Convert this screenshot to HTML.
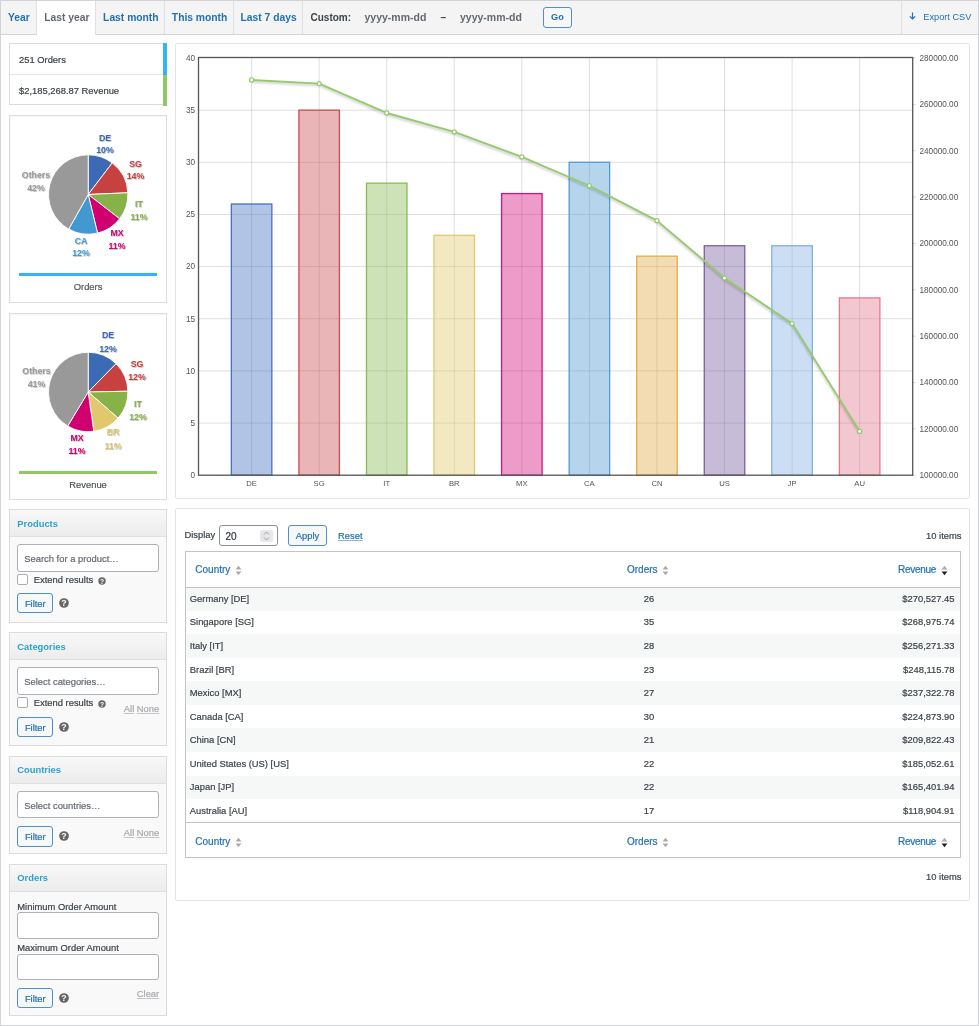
<!DOCTYPE html><html><head><meta charset="utf-8"><title>Sales by country</title><style>
*{box-sizing:border-box}
html,body{margin:0;padding:0}
body{width:979px;height:1026px;position:relative;overflow:hidden;background:#fff;-webkit-text-stroke:0.2px currentColor;
 font-family:"Liberation Sans",sans-serif;color:#3c434a;font-size:9.4px}
.root{position:absolute;left:0;top:0;width:979px;height:1026px;will-change:transform}
.frame{position:absolute;left:0;top:0;width:979px;height:1026px;border:1px solid #d2d3d6;pointer-events:none;z-index:10}
.tabs{position:absolute;left:0;top:0;width:979px;height:35px;background:#f4f4f4;border-bottom:1px solid #d4d4d6}
.tab{position:absolute;top:1px;height:33px;line-height:33px;font-size:10.3px;padding-left:2.2px;font-weight:bold;color:#2271b1;text-align:center;border-right:1px solid #e0e0e0;white-space:nowrap}
.tab.active{background:#fff;color:#646970;height:34px;font-weight:600}
.cust{position:absolute;top:1px;height:33px;line-height:33px;font-size:10px;font-weight:bold;white-space:nowrap}
.go{position:absolute;left:543px;top:7px;width:29px;height:21px;border:1px solid #4f8fd0;border-radius:3px;background:#f6f7f7;color:#2271b1;font-weight:bold;font-size:9.2px;text-align:center;line-height:19px}
.exp{position:absolute;left:900.5px;top:1px;width:78px;height:33px;border-left:1px solid #e0e0e0}
.exp span{position:absolute;left:21.8px;top:11px;font-size:9.2px;color:#2271b1;white-space:nowrap}
.legend{position:absolute;left:9px;top:43.2px;width:157.5px;height:62px;border:1px solid #dcdcde;background:#fff}
.legend div{position:absolute;left:9px;font-size:9.4px;color:#3c434a;white-space:nowrap}
.lbar{position:absolute;right:-1px;width:4px}
.pbox{position:absolute;left:9.3px;width:157.5px;border:1px solid #dcdcde;background:#fff;box-shadow:inset 1px 1px 1px rgba(0,0,0,0.04)}
.pbox .ul{position:absolute;left:9px;right:9px;height:2.6px}
.pbox .cap{position:absolute;left:0;right:0;text-align:center;font-size:9.4px;color:#50575e}
.pies{position:absolute;left:0;top:0}
.cpanel{position:absolute;left:175px;top:43px;width:795px;height:456px;border:1px solid #e4e4e6;border-radius:2px;background:#fff}
.chart{position:absolute;left:0;top:0}
.fpanel{position:absolute;left:9.3px;width:157.5px;border:1px solid #dcdcde;background:#f9f9f9}
.fh{background:linear-gradient(#f8f8f8,#ececec);border-bottom:1px solid #dfdfdf;position:relative}
.fh span{position:absolute;left:7px;top:7.5px;font-weight:bold;color:#2ea2cc;font-size:9.4px;white-space:nowrap}
.fb{position:relative}
.inp{position:absolute;left:7px;width:142px;background:#fff;border:1px solid #aeb1b6;border-radius:3px;color:#646970;font-size:9.4px;white-space:nowrap}
.inp span{position:absolute;left:6px}
.cb{position:absolute;left:7px;width:11px;height:11px;border:1px solid #a9acb1;border-radius:2px;background:#fff}
.lbl{position:absolute;font-size:9.4px;color:#3c434a;white-space:nowrap}
.btn{position:absolute;left:7px;width:36px;height:20.5px;border:1px solid #4f8fd0;border-radius:3px;background:#f6f7f7;color:#2271b1;font-size:9.4px;text-align:center;line-height:19.6px}
.help{position:absolute;overflow:visible}
.an{position:absolute;font-size:9.4px;color:#a7aaad;white-space:nowrap}
.an u{text-decoration:underline;text-decoration-color:#c3c4c7}
.tpanel{position:absolute;left:175px;top:508px;width:795px;height:393px;border:1px solid #e4e4e6;border-radius:2px;background:#fff}
.tpanel .t{position:absolute;white-space:nowrap}
.num{position:absolute;left:42.5px;top:16px;width:59.5px;height:21px;border:1px solid #8c8f94;border-radius:3px;background:#fff}
.tbl{position:absolute;left:8.5px;top:42.2px;width:776.5px;border-collapse:collapse;border:1px solid #c3c4c7;font-size:9.4px;color:#3c434a}
.tbl th{height:35.5px;font-weight:normal;font-size:10px;color:#2271b1;padding:0}
.tbl thead th{border-bottom:1px solid #c3c4c7}
.tbl tfoot th{border-top:1px solid #c3c4c7;height:35px;padding-top:3.8px}
.tbl td{height:23.55px;padding:0 0 1.1px 0}
.tbl tr.odd td{background:#f6f7f7}
.tbl .c1{text-align:left;padding-left:4.3px;width:359px}
.tbl th.c1{padding-left:9.8px}
.tbl th.c2{padding-right:2px}
.tbl .c2{text-align:center;width:210px}
.tbl .c3{text-align:right;padding-right:5.5px}
.tbl th.c3{padding-right:12.5px}
.tab,.cust,.go,.fh span,.exp span,svg{-webkit-text-stroke:0}
.si{display:inline-block;vertical-align:middle;margin-left:4.5px;position:relative;top:0.5px}
</style></head><body>
<div class="root">
<div class="tabs">
<div class="tab" style="left:0px;width:36.5px">Year</div>
<div class="tab active" style="left:36.5px;width:59.5px">Last year</div>
<div class="tab" style="left:96px;width:68.5px">Last month</div>
<div class="tab" style="left:164.5px;width:69.0px">This month</div>
<div class="tab" style="left:233.5px;width:69.0px">Last 7 days</div>
<div class="cust" style="left:310.5px;color:#3c434a">Custom:</div>
<div class="cust" style="left:364.5px;color:#646970;font-size:10.5px">yyyy-mm-dd</div>
<div class="cust" style="left:440.5px;color:#3c434a">&ndash;</div>
<div class="cust" style="left:460px;color:#646970;font-size:10.5px">yyyy-mm-dd</div>
<div class="go">Go</div>
<div class="exp"><svg style="position:absolute;left:7.6px;top:10.6px" width="7" height="8" viewBox="0 0 7 8"><path d="M3.5 0.5 V7 M0.8 4.3 L3.5 7 L6.2 4.3" fill="none" stroke="#2271b1" stroke-width="1.2"/></svg><span>Export CSV</span></div>
</div>
<div class="legend"><div style="top:10px">251 Orders</div><div style="top:41px">$2,185,268.87 Revenue</div><div style="position:absolute;left:-1px;top:29.5px;width:154px;height:1px;background:#e4e4e4"></div><span class="lbar" style="top:-1px;height:31.5px;background:#33b5f5"></span><span class="lbar" style="top:30.5px;height:31.5px;background:#8fc866"></span></div>
<div class="pbox" style="top:115.3px;height:187.5px"><div class="ul" style="top:157px;background:#33b5f5"></div><div class="cap" style="top:165px">Orders</div></div>
<div class="pbox" style="top:313px;height:186.5px"><div class="ul" style="top:157px;background:#8fc866"></div><div class="cap" style="top:165px">Revenue</div></div>
<svg class="pies" width="180" height="520" viewBox="0 0 180 520"><defs><filter id="tsh" x="-20%" y="-30%" width="140%" height="160%"><feDropShadow dx="0.6" dy="0.6" stdDeviation="0.6" flood-color="#000" flood-opacity="0.35"/></filter></defs><path d="M88.2,194.5 L88.20,154.80 A39.7,39.7 0 0 1 112.25,162.92 Z" fill="#3d6ab4" stroke="#fff" stroke-width="0.9" stroke-linejoin="round"/><path d="M88.2,194.5 L112.25,162.92 A39.7,39.7 0 0 1 127.86,192.76 Z" fill="#c84141" stroke="#fff" stroke-width="0.9" stroke-linejoin="round"/><path d="M88.2,194.5 L127.86,192.76 A39.7,39.7 0 0 1 119.63,218.75 Z" fill="#87b248" stroke="#fff" stroke-width="0.9" stroke-linejoin="round"/><path d="M88.2,194.5 L119.63,218.75 A39.7,39.7 0 0 1 97.55,233.08 Z" fill="#d00070" stroke="#fff" stroke-width="0.9" stroke-linejoin="round"/><path d="M88.2,194.5 L97.55,233.08 A39.7,39.7 0 0 1 68.71,229.09 Z" fill="#4299d2" stroke="#fff" stroke-width="0.9" stroke-linejoin="round"/><path d="M88.2,194.5 L68.71,229.09 A39.7,39.7 0 0 1 88.20,154.80 Z" fill="#999999" stroke="#fff" stroke-width="0.9" stroke-linejoin="round"/><path d="M88.2,392.0 L88.20,352.30 A39.7,39.7 0 0 1 116.06,363.72 Z" fill="#3d6ab4" stroke="#fff" stroke-width="0.9" stroke-linejoin="round"/><path d="M88.2,392.0 L116.06,363.72 A39.7,39.7 0 0 1 127.89,391.22 Z" fill="#c84141" stroke="#fff" stroke-width="0.9" stroke-linejoin="round"/><path d="M88.2,392.0 L127.89,391.22 A39.7,39.7 0 0 1 118.12,418.10 Z" fill="#87b248" stroke="#fff" stroke-width="0.9" stroke-linejoin="round"/><path d="M88.2,392.0 L118.12,418.10 A39.7,39.7 0 0 1 93.75,431.31 Z" fill="#e0c96c" stroke="#fff" stroke-width="0.9" stroke-linejoin="round"/><path d="M88.2,392.0 L93.75,431.31 A39.7,39.7 0 0 1 67.71,426.01 Z" fill="#d00070" stroke="#fff" stroke-width="0.9" stroke-linejoin="round"/><path d="M88.2,392.0 L67.71,426.01 A39.7,39.7 0 0 1 88.20,352.30 Z" fill="#999999" stroke="#fff" stroke-width="0.9" stroke-linejoin="round"/><g font-family="Liberation Sans, sans-serif" font-size="8.8" font-weight="bold" text-anchor="middle" filter="url(#tsh)"><text x="105" y="140.8" fill="#3d6ab4">DE</text><text x="105" y="153.3" fill="#3d6ab4">10%</text><text x="135.5" y="166.8" fill="#c84141">SG</text><text x="135.5" y="179.2" fill="#c84141">14%</text><text x="139" y="206.9" fill="#87b248">IT</text><text x="139" y="219.9" fill="#87b248">11%</text><text x="117" y="236.4" fill="#d00070">MX</text><text x="117" y="248.6" fill="#d00070">11%</text><text x="81" y="243.7" fill="#4299d2">CA</text><text x="81" y="256.2" fill="#4299d2">12%</text><text x="36" y="177.7" fill="#999999">Others</text><text x="36" y="190.5" fill="#999999">42%</text><text x="108" y="338.4" fill="#3d6ab4">DE</text><text x="108" y="351.7" fill="#3d6ab4">12%</text><text x="137" y="367.1" fill="#c84141">SG</text><text x="137" y="380.4" fill="#c84141">12%</text><text x="138" y="406.6" fill="#87b248">IT</text><text x="138" y="419.9" fill="#87b248">12%</text><text x="113" y="435.3" fill="#e0c96c">BR</text><text x="113" y="448.6" fill="#e0c96c">11%</text><text x="77" y="440.8" fill="#d00070">MX</text><text x="77" y="454.1" fill="#d00070">11%</text><text x="36.5" y="374.2" fill="#999999">Others</text><text x="36.5" y="387.2" fill="#999999">41%</text></g></svg>
<div class="cpanel"></div>
<div style="position:absolute;left:0;top:0"><svg class="chart" width="979" height="520" viewBox="0 0 979 520">
<defs><filter id="lsh" x="-5%" y="-5%" width="110%" height="120%"><feGaussianBlur stdDeviation="0.8"/></filter></defs>
<g stroke="#000" stroke-opacity="0.13" stroke-width="1"><line x1="198.5" y1="423.05" x2="912.7" y2="423.05"/><line x1="198.5" y1="370.90" x2="912.7" y2="370.90"/><line x1="198.5" y1="318.75" x2="912.7" y2="318.75"/><line x1="198.5" y1="266.60" x2="912.7" y2="266.60"/><line x1="198.5" y1="214.45" x2="912.7" y2="214.45"/><line x1="198.5" y1="162.30" x2="912.7" y2="162.30"/><line x1="198.5" y1="110.15" x2="912.7" y2="110.15"/><line x1="251.60" y1="57.5" x2="251.60" y2="475.2"/><line x1="319.16" y1="57.5" x2="319.16" y2="475.2"/><line x1="386.72" y1="57.5" x2="386.72" y2="475.2"/><line x1="454.28" y1="57.5" x2="454.28" y2="475.2"/><line x1="521.84" y1="57.5" x2="521.84" y2="475.2"/><line x1="589.40" y1="57.5" x2="589.40" y2="475.2"/><line x1="656.96" y1="57.5" x2="656.96" y2="475.2"/><line x1="724.52" y1="57.5" x2="724.52" y2="475.2"/><line x1="792.08" y1="57.5" x2="792.08" y2="475.2"/><line x1="859.64" y1="57.5" x2="859.64" y2="475.2"/></g>
<rect x="231.35" y="204.02" width="40.5" height="271.18" fill="#4472c4" fill-opacity="0.42" stroke="#4472c4" stroke-width="1.3"/>
<rect x="298.91" y="110.15" width="40.5" height="365.05" fill="#cc4e52" fill-opacity="0.42" stroke="#cc4e52" stroke-width="1.3"/>
<rect x="366.47" y="183.16" width="40.5" height="292.04" fill="#8aba54" fill-opacity="0.42" stroke="#8aba54" stroke-width="1.3"/>
<rect x="434.03" y="235.31" width="40.5" height="239.89" fill="#e0c96e" fill-opacity="0.42" stroke="#e0c96e" stroke-width="1.3"/>
<rect x="501.59" y="193.59" width="40.5" height="281.61" fill="#d41280" fill-opacity="0.42" stroke="#d41280" stroke-width="1.3"/>
<rect x="569.15" y="162.30" width="40.5" height="312.90" fill="#509bd2" fill-opacity="0.42" stroke="#509bd2" stroke-width="1.3"/>
<rect x="636.71" y="256.17" width="40.5" height="219.03" fill="#e4ac48" fill-opacity="0.42" stroke="#e4ac48" stroke-width="1.3"/>
<rect x="704.27" y="245.74" width="40.5" height="229.46" fill="#7a60a0" fill-opacity="0.42" stroke="#7a60a0" stroke-width="1.3"/>
<rect x="771.83" y="245.74" width="40.5" height="229.46" fill="#84b0e2" fill-opacity="0.42" stroke="#84b0e2" stroke-width="1.3"/>
<rect x="839.39" y="297.89" width="40.5" height="177.31" fill="#e27a8c" fill-opacity="0.42" stroke="#e27a8c" stroke-width="1.3"/>
<polyline points="251.60,81.76 319.16,85.35 386.72,114.80 454.28,133.70 521.84,158.72 589.40,187.57 656.96,222.46 724.52,279.87 792.08,325.41 859.64,433.18" fill="none" stroke="#000" stroke-opacity="0.2" stroke-width="2" filter="url(#lsh)"/>
<polyline points="251.60,79.96 319.16,83.55 386.72,113.00 454.28,131.90 521.84,156.92 589.40,185.77 656.96,220.66 724.52,278.07 792.08,323.61 859.64,431.38" fill="none" stroke="#95ca6c" stroke-width="1.85" stroke-linejoin="round"/>
<circle cx="251.60" cy="79.96" r="2.05" fill="#fff" stroke="#95ca6c" stroke-width="1.25"/>
<circle cx="319.16" cy="83.55" r="2.05" fill="#fff" stroke="#95ca6c" stroke-width="1.25"/>
<circle cx="386.72" cy="113.00" r="2.05" fill="#fff" stroke="#95ca6c" stroke-width="1.25"/>
<circle cx="454.28" cy="131.90" r="2.05" fill="#fff" stroke="#95ca6c" stroke-width="1.25"/>
<circle cx="521.84" cy="156.92" r="2.05" fill="#fff" stroke="#95ca6c" stroke-width="1.25"/>
<circle cx="589.40" cy="185.77" r="2.05" fill="#fff" stroke="#95ca6c" stroke-width="1.25"/>
<circle cx="656.96" cy="220.66" r="2.05" fill="#fff" stroke="#95ca6c" stroke-width="1.25"/>
<circle cx="724.52" cy="278.07" r="2.05" fill="#fff" stroke="#95ca6c" stroke-width="1.25"/>
<circle cx="792.08" cy="323.61" r="2.05" fill="#fff" stroke="#95ca6c" stroke-width="1.25"/>
<circle cx="859.64" cy="431.38" r="2.05" fill="#fff" stroke="#95ca6c" stroke-width="1.25"/>
<rect x="198.5" y="57.5" width="714.20" height="417.70" fill="none" stroke="#555" stroke-width="1.3"/>
<line x1="912.7" y1="475.20" x2="915.7" y2="475.20" stroke="#000" stroke-opacity="0.15"/>
<line x1="912.7" y1="428.84" x2="915.7" y2="428.84" stroke="#000" stroke-opacity="0.15"/>
<line x1="912.7" y1="382.49" x2="915.7" y2="382.49" stroke="#000" stroke-opacity="0.15"/>
<line x1="912.7" y1="336.13" x2="915.7" y2="336.13" stroke="#000" stroke-opacity="0.15"/>
<line x1="912.7" y1="289.78" x2="915.7" y2="289.78" stroke="#000" stroke-opacity="0.15"/>
<line x1="912.7" y1="243.42" x2="915.7" y2="243.42" stroke="#000" stroke-opacity="0.15"/>
<line x1="912.7" y1="197.07" x2="915.7" y2="197.07" stroke="#000" stroke-opacity="0.15"/>
<line x1="912.7" y1="150.71" x2="915.7" y2="150.71" stroke="#000" stroke-opacity="0.15"/>
<line x1="912.7" y1="104.36" x2="915.7" y2="104.36" stroke="#000" stroke-opacity="0.15"/>
<line x1="912.7" y1="58.00" x2="915.7" y2="58.00" stroke="#000" stroke-opacity="0.15"/>
<g font-family="Liberation Sans, sans-serif" font-size="8.2" fill="#545454">
<text x="195" y="478.00" text-anchor="end">0</text>
<text x="195" y="425.85" text-anchor="end">5</text>
<text x="195" y="373.70" text-anchor="end">10</text>
<text x="195" y="321.55" text-anchor="end">15</text>
<text x="195" y="269.40" text-anchor="end">20</text>
<text x="195" y="217.25" text-anchor="end">25</text>
<text x="195" y="165.10" text-anchor="end">30</text>
<text x="195" y="112.95" text-anchor="end">35</text>
<text x="195" y="60.80" text-anchor="end">40</text>
<text x="919.5" y="478.00">100000.00</text>
<text x="919.5" y="431.64">120000.00</text>
<text x="919.5" y="385.29">140000.00</text>
<text x="919.5" y="338.93">160000.00</text>
<text x="919.5" y="292.58">180000.00</text>
<text x="919.5" y="246.22">200000.00</text>
<text x="919.5" y="199.87">220000.00</text>
<text x="919.5" y="153.51">240000.00</text>
<text x="919.5" y="107.16">260000.00</text>
<text x="919.5" y="60.80">280000.00</text>
<text x="251.60" y="485.8" text-anchor="middle" font-size="7.7">DE</text>
<text x="319.16" y="485.8" text-anchor="middle" font-size="7.7">SG</text>
<text x="386.72" y="485.8" text-anchor="middle" font-size="7.7">IT</text>
<text x="454.28" y="485.8" text-anchor="middle" font-size="7.7">BR</text>
<text x="521.84" y="485.8" text-anchor="middle" font-size="7.7">MX</text>
<text x="589.40" y="485.8" text-anchor="middle" font-size="7.7">CA</text>
<text x="656.96" y="485.8" text-anchor="middle" font-size="7.7">CN</text>
<text x="724.52" y="485.8" text-anchor="middle" font-size="7.7">US</text>
<text x="792.08" y="485.8" text-anchor="middle" font-size="7.7">JP</text>
<text x="859.64" y="485.8" text-anchor="middle" font-size="7.7">AU</text>
</g>
</svg></div>
<div class="fpanel" style="top:509px;height:113.5px"><div class="fh" style="height:27px"><span>Products</span></div><div class="fb"><div class="inp" style="top:7px;height:27.5px"><span style="top:8px">Search for a product…</span></div><div class="cb" style="top:36.5px"></div><div class="lbl" style="left:23.5px;top:37.4px">Extend results</div><svg class="help" style="left:87.8px;top:39.8px" width="8" height="8" viewBox="0 0 8 8"><circle cx="4" cy="4" r="3.7" fill="#666"/><text x="4" y="6.6" font-family="Liberation Sans, sans-serif" font-size="6.8" font-weight="bold" fill="#fff" text-anchor="middle">?</text></svg><div class="btn" style="top:55.8px">Filter</div><svg class="help" style="left:48.9px;top:61px" width="10" height="10" viewBox="0 0 10 10"><circle cx="5" cy="5" r="4.85" fill="#666"/><text x="5" y="8.3" font-family="Liberation Sans, sans-serif" font-size="8.8" font-weight="bold" fill="#fff" text-anchor="middle">?</text></svg></div></div>
<div class="fpanel" style="top:632.3px;height:114px"><div class="fh" style="height:27px"><span>Categories</span></div><div class="fb"><div class="inp" style="top:7px;height:27.5px"><span style="top:8px">Select categories…</span></div><div class="cb" style="top:36.5px"></div><div class="lbl" style="left:23.5px;top:36.6px">Extend results</div><svg class="help" style="left:87.8px;top:40.099999999999994px" width="8" height="8" viewBox="0 0 8 8"><circle cx="4" cy="4" r="3.7" fill="#666"/><text x="4" y="6.6" font-family="Liberation Sans, sans-serif" font-size="6.8" font-weight="bold" fill="#fff" text-anchor="middle">?</text></svg><div class="an" style="left:113.5px;top:42.5px"><u>All</u> <u>None</u></div><div class="btn" style="top:56.5px">Filter</div><svg class="help" style="left:48.9px;top:61.5px" width="10" height="10" viewBox="0 0 10 10"><circle cx="5" cy="5" r="4.85" fill="#666"/><text x="5" y="8.3" font-family="Liberation Sans, sans-serif" font-size="8.8" font-weight="bold" fill="#fff" text-anchor="middle">?</text></svg></div></div>
<div class="fpanel" style="top:755.5px;height:98px"><div class="fh" style="height:27px"><span>Countries</span></div><div class="fb"><div class="inp" style="top:7.5px;height:27px"><span style="top:8px">Select countries…</span></div><div class="btn" style="top:42.5px">Filter</div><svg class="help" style="left:48.9px;top:47.5px" width="10" height="10" viewBox="0 0 10 10"><circle cx="5" cy="5" r="4.85" fill="#666"/><text x="5" y="8.3" font-family="Liberation Sans, sans-serif" font-size="8.8" font-weight="bold" fill="#fff" text-anchor="middle">?</text></svg><div class="an" style="left:113.5px;top:43px"><u>All</u> <u>None</u></div></div></div>
<div class="fpanel" style="top:863.6px;height:152.0px"><div class="fh" style="height:27.5px"><span>Orders</span></div><div class="fb"><div class="lbl" style="left:7px;top:9.2px">Minimum Order Amount</div><div class="inp" style="top:20.2px;height:26.5px"></div><div class="lbl" style="left:7px;top:50.2px">Maximum Order Amount</div><div class="inp" style="top:61.5px;height:26px"></div><div class="btn" style="top:95.5px">Filter</div><svg class="help" style="left:48.9px;top:100.5px" width="10" height="10" viewBox="0 0 10 10"><circle cx="5" cy="5" r="4.85" fill="#666"/><text x="5" y="8.3" font-family="Liberation Sans, sans-serif" font-size="8.8" font-weight="bold" fill="#fff" text-anchor="middle">?</text></svg><div class="an" style="left:126.5px;top:95.8px"><u>Clear</u></div></div></div>
<div class="tpanel"><div class="t" style="left:8.5px;top:19.6px;font-size:9.4px">Display</div><div class="num"><span style="position:absolute;left:6px;top:4.5px;font-size:10px;color:#2c3338">20</span><span style="position:absolute;left:40.5px;top:3.5px;width:12.5px;height:12.5px;background:#e8e8ea;border-radius:2px"></span><svg style="position:absolute;left:43.5px;top:5px" width="7" height="10" viewBox="0 0 7 10"><path d="M1 3.5 L3.5 1 L6 3.5 M1 6.5 L3.5 9 L6 6.5" fill="none" stroke="#8c8f94" stroke-width="0.9"/></svg></div><div class="btn" style="left:112px;top:16px;width:39px;height:21px;line-height:19px">Apply</div><div class="t" style="left:162px;top:20.8px;color:#2271b1;text-decoration:underline;text-decoration-color:#8db3d8">Reset</div><div class="t" style="right:7.5px;top:21.2px">10 items</div><table class="tbl"><thead><tr><th class="c1"><span>Country</span><svg class="si" width="7" height="11" viewBox="0 0 7 11"><path d="M3.5 0.8 L6.4 4.6 L0.6 4.6 Z" fill="#a7aaad"/><path d="M3.5 10.2 L6.4 6.4 L0.6 6.4 Z" fill="#a7aaad"/></svg></th><th class="c2"><span>Orders</span><svg class="si" width="7" height="11" viewBox="0 0 7 11"><path d="M3.5 0.8 L6.4 4.6 L0.6 4.6 Z" fill="#a7aaad"/><path d="M3.5 10.2 L6.4 6.4 L0.6 6.4 Z" fill="#a7aaad"/></svg></th><th class="c3"><span style="letter-spacing:-0.3px">Revenue</span><svg class="si" width="7" height="11" viewBox="0 0 7 11"><path d="M3.5 0.8 L6.4 4.6 L0.6 4.6 Z" fill="#a7aaad"/><path d="M3.5 10.2 L6.4 6.4 L0.6 6.4 Z" fill="#1d2327"/></svg></th></tr></thead><tbody><tr class="odd"><td class="c1">Germany [DE]</td><td class="c2">26</td><td class="c3">$270,527.45</td></tr><tr class=""><td class="c1">Singapore [SG]</td><td class="c2">35</td><td class="c3">$268,975.74</td></tr><tr class="odd"><td class="c1">Italy [IT]</td><td class="c2">28</td><td class="c3">$256,271.33</td></tr><tr class=""><td class="c1">Brazil [BR]</td><td class="c2">23</td><td class="c3">$248,115.78</td></tr><tr class="odd"><td class="c1">Mexico [MX]</td><td class="c2">27</td><td class="c3">$237,322.78</td></tr><tr class=""><td class="c1">Canada [CA]</td><td class="c2">30</td><td class="c3">$224,873.90</td></tr><tr class="odd"><td class="c1">China [CN]</td><td class="c2">21</td><td class="c3">$209,822.43</td></tr><tr class=""><td class="c1">United States (US) [US]</td><td class="c2">22</td><td class="c3">$185,052.61</td></tr><tr class="odd"><td class="c1">Japan [JP]</td><td class="c2">22</td><td class="c3">$165,401.94</td></tr><tr class=""><td class="c1">Australia [AU]</td><td class="c2">17</td><td class="c3">$118,904.91</td></tr></tbody><tfoot><tr><th class="c1"><span>Country</span><svg class="si" width="7" height="11" viewBox="0 0 7 11"><path d="M3.5 0.8 L6.4 4.6 L0.6 4.6 Z" fill="#a7aaad"/><path d="M3.5 10.2 L6.4 6.4 L0.6 6.4 Z" fill="#a7aaad"/></svg></th><th class="c2"><span>Orders</span><svg class="si" width="7" height="11" viewBox="0 0 7 11"><path d="M3.5 0.8 L6.4 4.6 L0.6 4.6 Z" fill="#a7aaad"/><path d="M3.5 10.2 L6.4 6.4 L0.6 6.4 Z" fill="#a7aaad"/></svg></th><th class="c3"><span style="letter-spacing:-0.3px">Revenue</span><svg class="si" width="7" height="11" viewBox="0 0 7 11"><path d="M3.5 0.8 L6.4 4.6 L0.6 4.6 Z" fill="#a7aaad"/><path d="M3.5 10.2 L6.4 6.4 L0.6 6.4 Z" fill="#1d2327"/></svg></th></tr></tfoot></table><div class="t" style="right:7.5px;top:361.6px">10 items</div></div>
<div class="frame"></div>
</div>
</body></html>
